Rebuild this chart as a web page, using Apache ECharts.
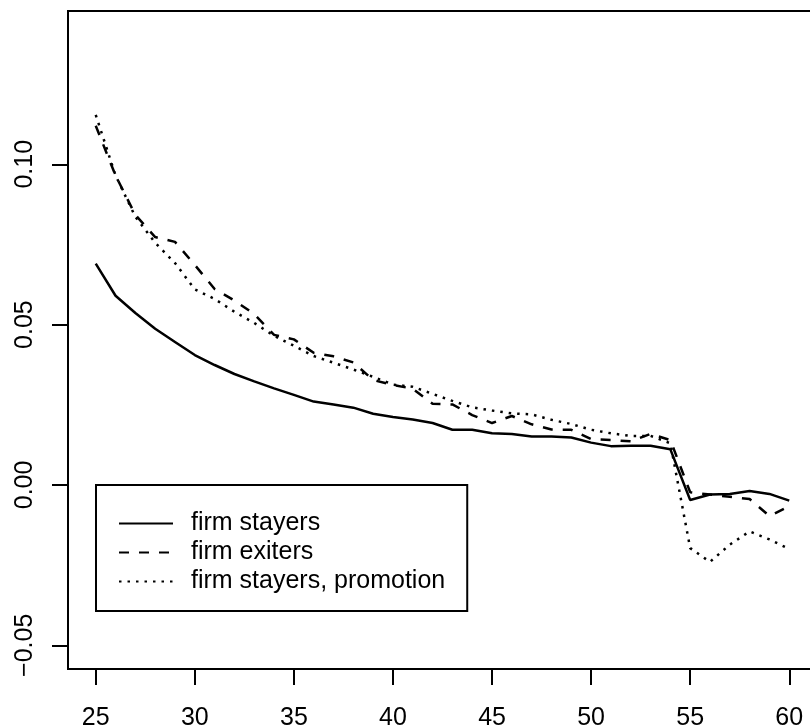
<!DOCTYPE html>
<html>
<head>
<meta charset="utf-8">
<script src="https://cdn.jsdelivr.net/npm/echarts@6/dist/echarts.min.js"></script>
<style>
html,body{margin:0;padding:0;background:#fff;}
#chart{width:810px;height:727px;}
</style>
</head>
<body>
<div id="chart"></div>
<script>
const ages = [25,26,27,28,29,30,31,32,33,34,35,36,37,38,39,40,41,42,43,44,45,46,47,48,49,50,51,52,53,54,55,56,57,58,59,60];
const stayers = [0.0690,0.0590,0.0536,0.0487,0.0446,0.0405,0.0374,0.0346,0.0323,0.0301,0.0281,0.0260,0.0251,0.0241,0.0222,0.0212,0.0204,0.0193,0.0172,0.0172,0.0161,0.0159,0.0151,0.0151,0.0148,0.0132,0.0121,0.0122,0.0122,0.0111,-0.0047,-0.0030,-0.0028,-0.0019,-0.0028,-0.0049];
const exiters = [0.1120,0.0965,0.0842,0.0773,0.0758,0.0686,0.0611,0.0575,0.0533,0.0468,0.0454,0.0412,0.0401,0.0382,0.0327,0.0312,0.0300,0.0253,0.0251,0.0218,0.0193,0.0215,0.0189,0.0173,0.0172,0.0143,0.0140,0.0136,0.0159,0.0140,-0.0023,-0.0030,-0.0037,-0.0044,-0.0097,-0.0066];
const promotion = [0.1154,0.0965,0.0836,0.0755,0.0692,0.0610,0.0580,0.0540,0.0505,0.0465,0.0434,0.0402,0.0381,0.0360,0.0337,0.0313,0.0306,0.0284,0.0262,0.0242,0.0232,0.0223,0.0220,0.0203,0.0190,0.0172,0.0161,0.0153,0.0153,0.0130,-0.0197,-0.0240,-0.0186,-0.0145,-0.0170,-0.0200];
const xTicks = [25,30,35,40,45,50,55,60];
const yTicks = [-0.05,0,0.05,0.10];
const seriesNames = ['firm stayers','firm exiters','firm stayers, promotion'];

const FONT = '"Liberation Sans", Arial, Helvetica, sans-serif';
const chart = echarts.init(document.getElementById('chart'), null, {renderer:'canvas'});
const pair = arr => ages.map((a,i)=>[a,arr[i]]);
const fmtY = v => { const s = Math.abs(v).toFixed(2); return v < -1e-9 ? '\u2212' + s : s; };

chart.setOption({
  animation:false,
  backgroundColor:'#fff',
  grid:{left:68, right:-7, top:11, bottom:58, show:true, borderColor:'#000', borderWidth:2, backgroundColor:'transparent', outerBoundsMode:'none', containLabel:false},
  xAxis:{
    type:'value', min:23.6, max:61.4,
    axisLine:{show:false, onZero:false},
    splitLine:{show:false},
    axisTick:{show:true, inside:false, length:16, lineStyle:{color:'#000', width:2}, customValues:xTicks},
    axisLabel:{show:true, margin:37, fontSize:25, color:'#000', fontFamily:FONT, customValues:xTicks, formatter:v=>String(v)}
  },
  yAxis:{
    type:'value', min:-0.0574, max:0.1478,
    axisLine:{show:false, onZero:false},
    splitLine:{show:false},
    axisTick:{show:true, inside:false, length:16, lineStyle:{color:'#000', width:2}, customValues:yTicks},
    axisLabel:{show:true, rotate:90, margin:30, fontSize:25, color:'#000', fontFamily:FONT, customValues:yTicks, formatter:fmtY}
  },
  legend:{
    show:true, orient:'vertical', left:96, top:485,
    padding:[26,22,17,22],
    itemWidth:54, itemHeight:2, itemGap:4,
    borderColor:'#000', borderWidth:2, borderRadius:0,
    backgroundColor:'#fff',
    itemStyle:{opacity:0},
    formatter:n=>'{t|'+n+'}',
    textStyle:{fontSize:25, color:'#000', fontFamily:FONT, rich:{t:{fontSize:25, color:'#000', fontFamily:FONT, padding:[0,0,0,13]}}},
    data:seriesNames,
    selectedMode:false
  },
  series:[
    {name:seriesNames[0], type:'line', data:pair(stayers), symbol:'none', lineStyle:{color:'#000', width:2.5, type:'solid'}, itemStyle:{color:'#000'}},
    {name:seriesNames[1], type:'line', data:pair(exiters), symbol:'none', lineStyle:{color:'#000', width:2.5, type:[10,10]}, itemStyle:{color:'#000'}},
    {name:seriesNames[2], type:'line', data:pair(promotion), symbol:'none', lineStyle:{color:'#000', width:2.5, type:[2.5,6]}, itemStyle:{color:'#000'}}
  ]
});
</script>
</body>
</html>
